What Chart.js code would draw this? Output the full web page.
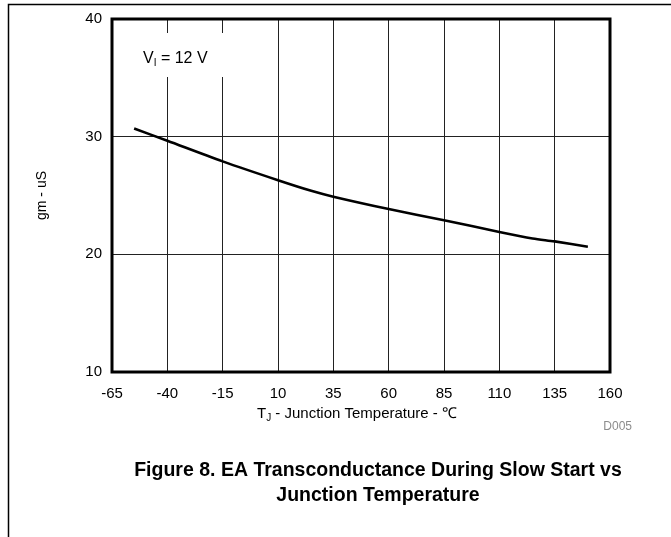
<!DOCTYPE html>
<html lang="en">
<head>
    <meta charset="UTF-8">
    <title>EA Transconductance vs Junction Temperature</title>
    <script src="https://cdn.jsdelivr.net/npm/chart.js"></script>
    <style>
        html, body { margin: 0; padding: 0; background: #fff; }
        #wrap { width: 671px; height: 537px; position: relative; }
    </style>
</head>
<body>
    <div id="wrap">
        <canvas id="gmChart" width="671" height="537"></canvas>
    </div>

    <script>
        // Data (TJ in degC, gm in uS)
        const tempC = [-55, -40, -15, 10, 25, 35, 60, 85, 110, 125, 135, 150];
        const gmUs  = [30.7, 29.65, 27.9, 26.3, 25.4, 24.9, 23.85, 22.9, 21.9, 21.35, 21.1, 20.65];
        const xTicks = [-65, -40, -15, 10, 35, 60, 85, 110, 135, 160];
        const yTicks = [10, 20, 30, 40];

        const FONT = '"Liberation Sans", Arial, sans-serif';

        // writes "main" + subscript + "rest" starting at x
        function subText(ctx, x, y, main, sub, rest, size) {
            ctx.font = size + 'px ' + FONT;
            ctx.fillText(main, x, y);
            x += ctx.measureText(main).width;
            ctx.font = Math.round(size * 0.65) + 'px ' + FONT;
            ctx.fillText(sub, x, y + 3);
            x += ctx.measureText(sub).width;
            ctx.font = size + 'px ' + FONT;
            ctx.fillText(rest, x, y);
        }

        function subWidth(ctx, main, sub, rest, size) {
            ctx.font = size + 'px ' + FONT;
            let w = ctx.measureText(main).width + ctx.measureText(rest).width;
            ctx.font = Math.round(size * 0.65) + 'px ' + FONT;
            return w + ctx.measureText(sub).width;
        }

        // frame, note box, custom axis title and caption
        const extras = {
            id: 'extras',
            beforeDatasetsDraw(chart) {
                const ctx = chart.ctx;
                ctx.save();
                // white box behind the V_I note
                ctx.fillStyle = '#fff';
                ctx.fillRect(120, 33, 118, 44);
                ctx.fillStyle = '#000';
                ctx.textBaseline = 'alphabetic';
                subText(ctx, 143, 63, 'V', 'I', ' = 12 V', 16);
                ctx.restore();
            },
            afterDraw(chart) {
                const ctx = chart.ctx;
                const a = chart.chartArea;
                ctx.save();
                // plot border
                ctx.strokeStyle = '#000';
                ctx.lineWidth = 3;
                ctx.strokeRect(a.left, a.top, a.right - a.left, a.bottom - a.top);

                // page frame
                ctx.lineWidth = 1.5;
                ctx.beginPath();
                ctx.moveTo(8.5, 537);
                ctx.lineTo(8.5, 4.5);
                ctx.lineTo(671, 4.5);
                ctx.stroke();

                // x axis title with subscript
                ctx.fillStyle = '#000';
                ctx.textBaseline = 'alphabetic';
                const p3 = ' - Junction Temperature - \u2103';
                const w = subWidth(ctx, 'T', 'J', p3, 15);
                subText(ctx, 357 - w / 2, 418, 'T', 'J', p3, 15);

                // code tag
                ctx.fillStyle = '#8c8c8c';
                ctx.font = '12px ' + FONT;
                ctx.textAlign = 'right';
                ctx.fillText('D005', 632, 430);

                // caption
                ctx.fillStyle = '#000';
                ctx.textAlign = 'center';
                ctx.font = 'bold 19.5px ' + FONT;
                ctx.fillText('Figure 8. EA Transconductance During Slow Start vs', 378, 476);
                ctx.fillText('Junction Temperature', 378, 501);
                ctx.restore();
            }
        };

        const ctxGm = document.getElementById('gmChart').getContext('2d');
        const gmChart = new Chart(ctxGm, {
            type: 'line',
            data: {
                datasets: [{
                    label: 'gm',
                    data: tempC.map((t, i) => ({ x: t, y: gmUs[i] })),
                    borderColor: '#000',
                    borderWidth: 2.6,
                    pointRadius: 0,
                    tension: 0.3,
                    fill: false
                }]
            },
            options: {
                responsive: false,
                animation: false,
                devicePixelRatio: 1,
                layout: { padding: { top: 17, right: 61, bottom: 0, left: 0 } },
                plugins: {
                    legend: { display: false },
                    tooltip: { enabled: false }
                },
                scales: {
                    x: {
                        type: 'linear',
                        min: -65,
                        max: 160,
                        afterBuildTicks(scale) {
                            scale.ticks = xTicks.map(v => ({ value: v }));
                        },
                        afterFit(scale) { scale.height = 537 - 372; },
                        grid: { color: '#222', lineWidth: 1, drawTicks: false },
                        border: { display: false },
                        ticks: {
                            color: '#000',
                            padding: 13,
                            maxRotation: 0,
                            font: { family: FONT, size: 15 }
                        }
                    },
                    y: {
                        type: 'linear',
                        min: 10,
                        max: 40,
                        afterBuildTicks(scale) {
                            scale.ticks = yTicks.map(v => ({ value: v }));
                        },
                        afterFit(scale) { scale.width = 112; },
                        grid: { color: '#222', lineWidth: 1, drawTicks: false },
                        border: { display: false },
                        title: {
                            display: true,
                            text: 'gm - uS',
                            color: '#000',
                            font: { family: FONT, size: 14 },
                            padding: { top: 34, bottom: 0 }
                        },
                        ticks: {
                            color: '#000',
                            padding: 10,
                            font: { family: FONT, size: 15 }
                        }
                    }
                }
            },
            plugins: [extras]
        });
    </script>
</body>
</html>
